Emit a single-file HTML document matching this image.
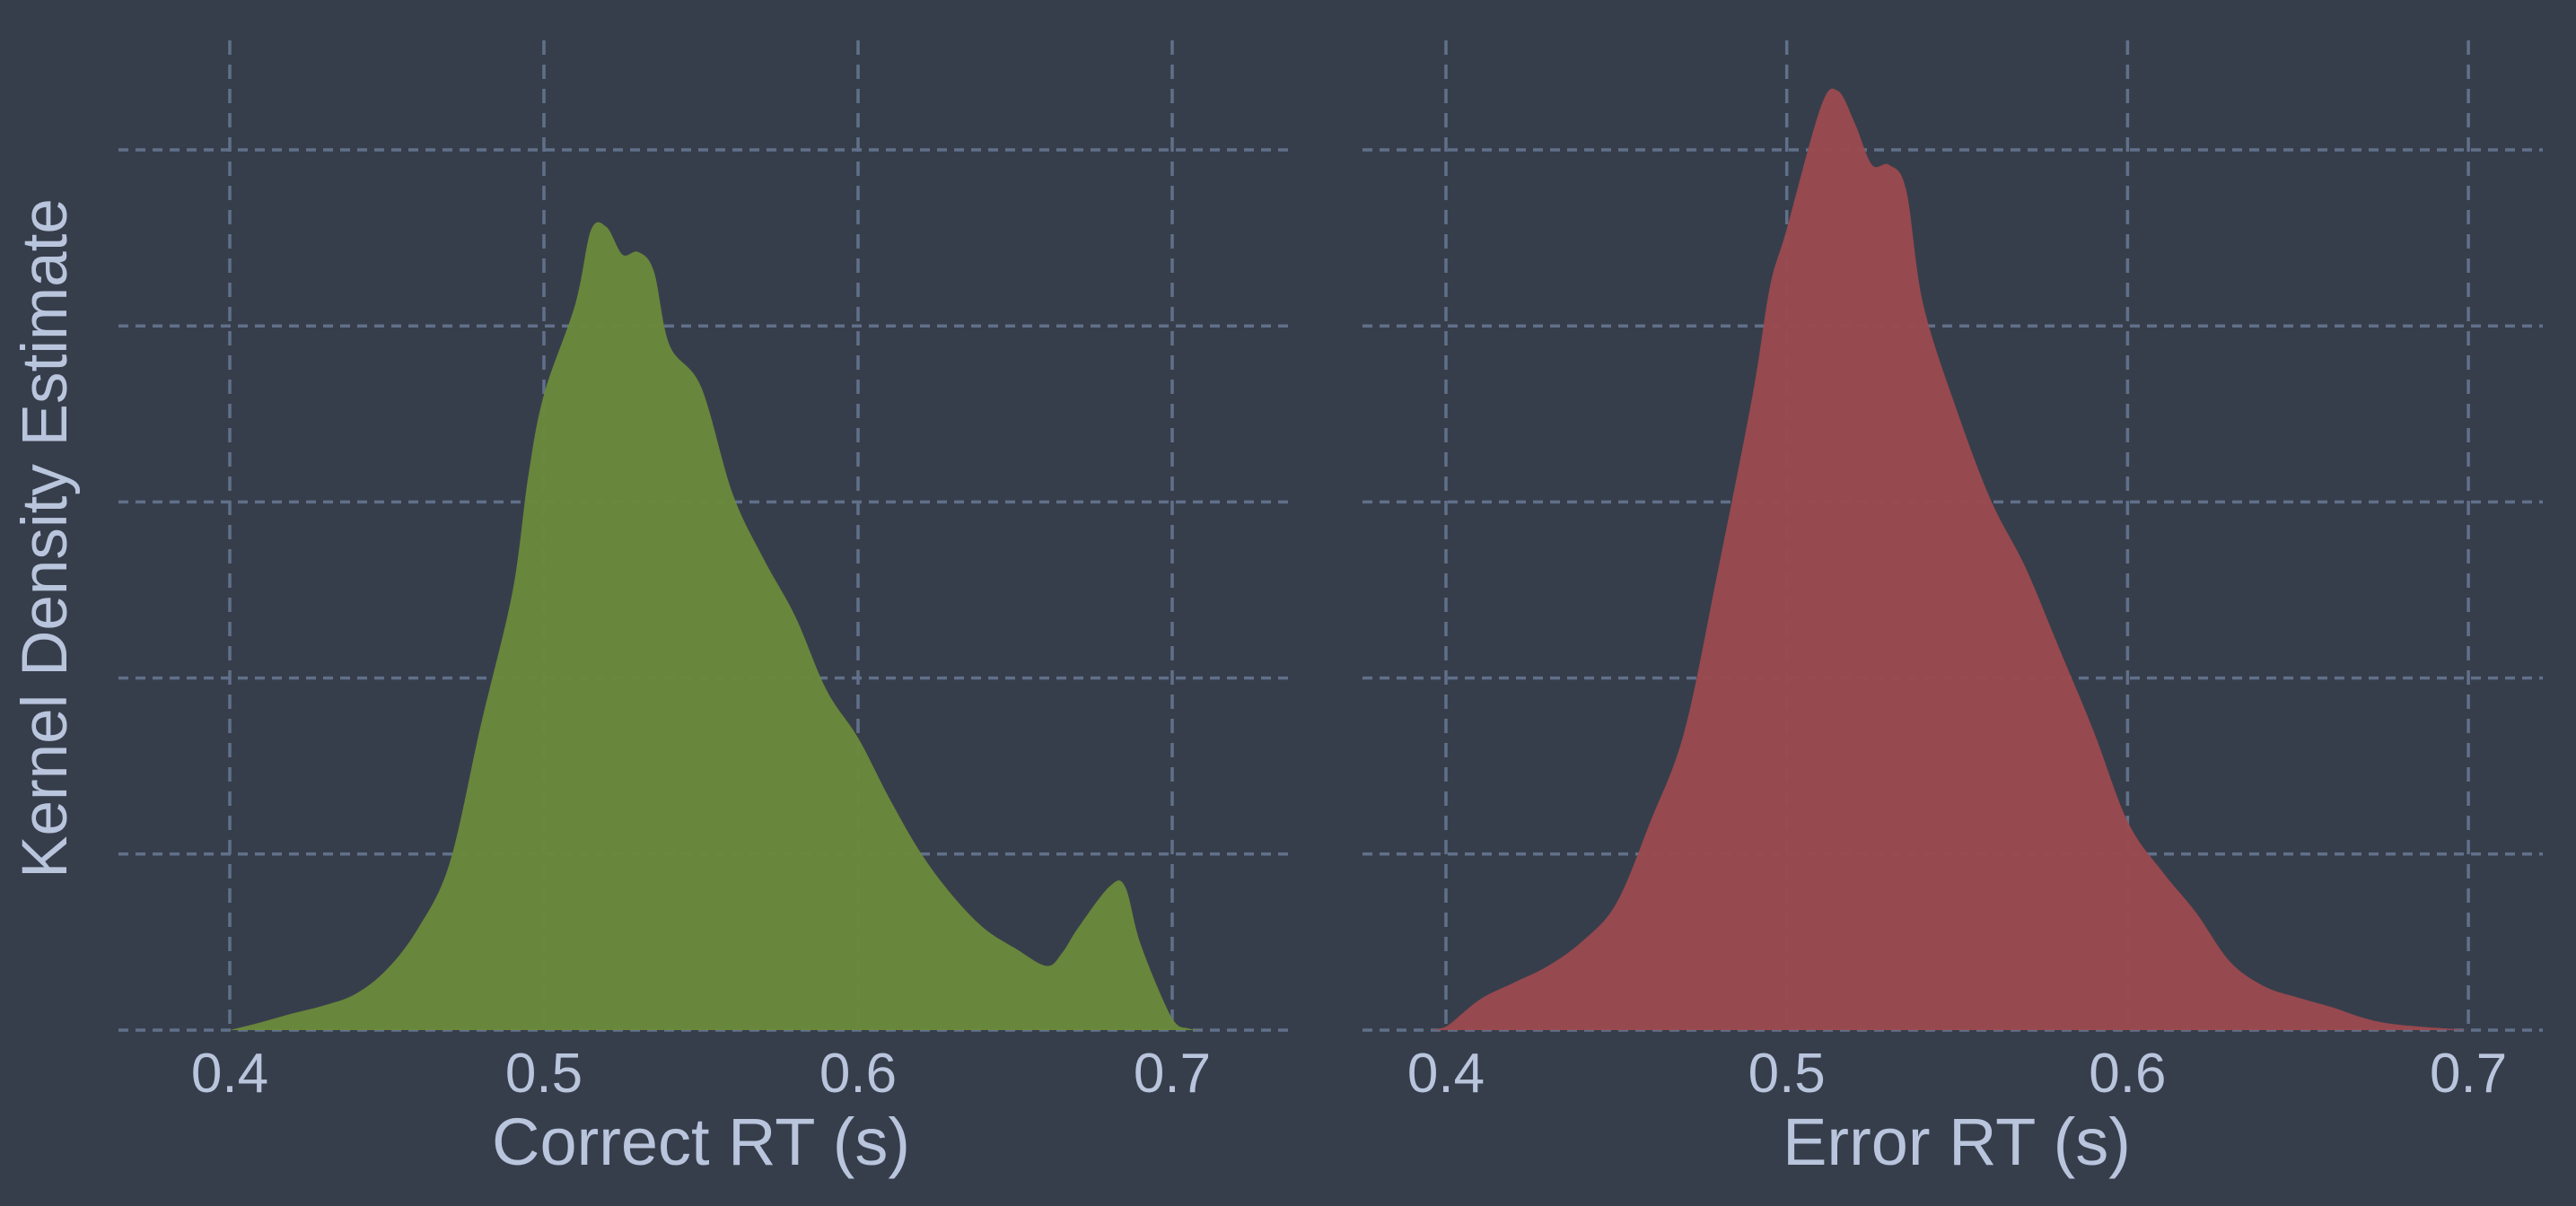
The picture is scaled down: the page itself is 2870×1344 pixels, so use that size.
<!DOCTYPE html>
<html><head><meta charset="utf-8"><style>
html,body{margin:0;padding:0;background:#373e4b;}
svg{display:block;}
text{font-family:"Liberation Sans",Arial,sans-serif;fill:#b9c5dd;}
</style></head><body>
<svg id="chart" width="2870" height="1344" viewBox="0 0 2870 1344" xmlns="http://www.w3.org/2000/svg">
<rect width="2870" height="1344" fill="#373e4b"/>
<g id="gridL"></g>
<g id="gridR"></g>
<path id="areaL" fill="#6a8a3b" fill-opacity="0.95"/>
<path id="areaR" fill="#9b4a4f" fill-opacity="0.95"/>
<g id="ticksL"></g>
<g id="ticksR"></g>
<text x="781" y="1298" font-size="74" text-anchor="middle">Correct RT (s)</text>
<text x="2180" y="1298" font-size="74" text-anchor="middle">Error RT (s)</text>
<text x="0" y="0" font-size="71" text-anchor="middle" transform="translate(74,600) rotate(-90)">Kernel Density Estimate</text>
</svg>
<script>
const xTicks = [0.4, 0.5, 0.6, 0.7];
const xTickLabels = ["0.4", "0.5", "0.6", "0.7"];
const yTicks = [0, 2, 4, 6, 8, 10];
const correctX = [0.40,0.41,0.42,0.43,0.44,0.45,0.46,0.47,0.48,0.49,0.495,0.50,0.51,0.515,0.52,0.525,0.53,0.535,0.54,0.55,0.56,0.57,0.58,0.59,0.60,0.61,0.62,0.63,0.64,0.65,0.66,0.665,0.67,0.68,0.685,0.69,0.70,0.705,0.71];
const correctY = [0,0.09,0.19,0.28,0.41,0.69,1.16,1.90,3.48,4.98,6.29,7.22,8.25,9.09,9.12,8.81,8.84,8.62,7.78,7.31,6.10,5.35,4.70,3.86,3.32,2.63,2.01,1.53,1.16,0.93,0.73,0.88,1.16,1.63,1.63,0.97,0.13,0.02,0];
const errorX = [0.395,0.40,0.41,0.42,0.43,0.44,0.45,0.46,0.47,0.48,0.49,0.495,0.50,0.51,0.515,0.52,0.525,0.53,0.535,0.54,0.55,0.56,0.57,0.58,0.59,0.60,0.61,0.62,0.63,0.64,0.65,0.66,0.67,0.68,0.70];
const errorY = [0,0.04,0.35,0.54,0.73,1.01,1.44,2.37,3.40,5.26,7.22,8.43,9.10,10.49,10.67,10.30,9.83,9.83,9.55,8.25,7.03,6.01,5.26,4.33,3.40,2.37,1.81,1.34,0.78,0.50,0.37,0.26,0.13,0.06,0];

const NS = "http://www.w3.org/2000/svg";
const y0 = 1148, yStep = 196.2/2;
function yScale(v){ return y0 - v*yStep; }
const panels = [
  {x0:256, k:3500, left:132, right:1438, grid:"gridL", ticks:"ticksL", area:"areaL", xs:correctX, ys:correctY},
  {x0:1611, k:3797, left:1518, right:2833, grid:"gridR", ticks:"ticksR", area:"areaR", xs:errorX, ys:errorY}
];
function smoothPath(pts){
  let d = "M" + pts[0][0] + "," + pts[0][1];
  for (let i=0;i<pts.length-1;i++){
    const p0=pts[Math.max(0,i-1)], p1=pts[i], p2=pts[i+1], p3=pts[Math.min(pts.length-1,i+2)];
    const c1x=p1[0]+(p2[0]-p0[0])/6, c1y=p1[1]+(p2[1]-p0[1])/6;
    const c2x=p2[0]-(p3[0]-p1[0])/6, c2y=p2[1]-(p3[1]-p1[1])/6;
    d += " C"+c1x.toFixed(1)+","+Math.min(y0,c1y).toFixed(1)+" "+c2x.toFixed(1)+","+Math.min(y0,c2y).toFixed(1)+" "+p2[0].toFixed(1)+","+p2[1].toFixed(1);
  }
  return d;
}
panels.forEach(p=>{
  const xScale = v => p.x0 + (v-0.4)*p.k;
  const g = document.getElementById(p.grid);
  yTicks.forEach(t=>{
    const l = document.createElementNS(NS,"line");
    
    
    l.setAttribute("x1",p.left); l.setAttribute("x2",p.right);
    l.setAttribute("y1",yScale(t)); l.setAttribute("y2",yScale(t));
    l.setAttribute("stroke","#61708a"); l.setAttribute("stroke-width","3.5");
    l.setAttribute("stroke-dasharray","11 8");
    g.appendChild(l);
  });
  const tg = document.getElementById(p.ticks);
  xTicks.forEach((t,i)=>{
    const l = document.createElementNS(NS,"line");
    
    
    l.setAttribute("x1",xScale(t)); l.setAttribute("x2",xScale(t));
    l.setAttribute("y1",45); l.setAttribute("y2",y0);
    l.setAttribute("stroke","#61708a"); l.setAttribute("stroke-width","3.5");
    l.setAttribute("stroke-dasharray","16 11");
    g.appendChild(l);
    const tx = document.createElementNS(NS,"text");
    
    
    tx.setAttribute("x",xScale(t)); tx.setAttribute("y",1217);
    tx.setAttribute("font-size","62"); tx.setAttribute("text-anchor","middle");
    tx.textContent = xTickLabels[i];
    tg.appendChild(tx);
  });
  const pts = p.xs.map((x,i)=>[xScale(x), yScale(p.ys[i])]);
  let d = smoothPath(pts);
  d += " L"+pts[pts.length-1][0]+","+y0+" L"+pts[0][0]+","+y0+" Z";
  document.getElementById(p.area).setAttribute("d", d);
});
</script>
</body></html>
